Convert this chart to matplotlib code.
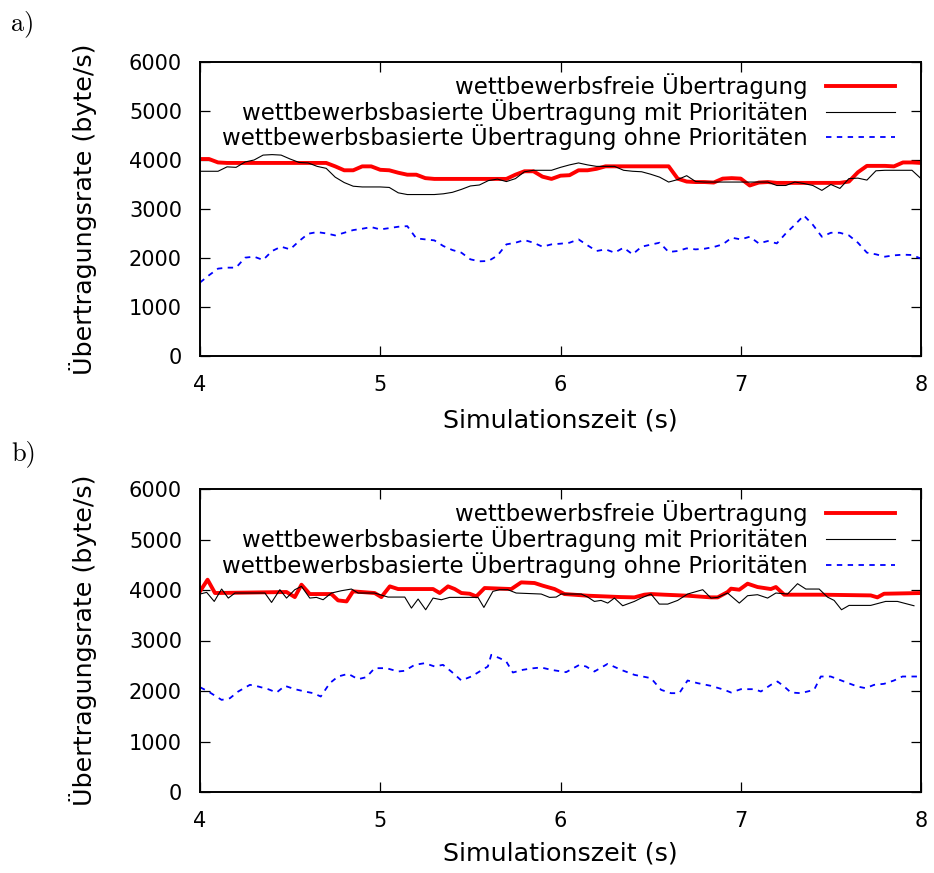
import numpy as np
import matplotlib
matplotlib.use("Agg")
import matplotlib.pyplot as plt

# ---------------- data ----------------
# panel a) sampled every 0.05 s from 4.0 to 8.0
t_a = [4.0 + 0.05 * k for k in range(81)]
red_a = [4020, 4020, 3950, 3940, 3940, 3940, 3940, 3940, 3940, 3940,
         3940, 3940, 3940, 3940, 3940, 3870, 3790, 3790, 3870, 3870,
         3800, 3790, 3740, 3700, 3700, 3630, 3614, 3614, 3614, 3614,
         3614, 3614, 3614, 3614, 3614, 3700, 3770, 3770, 3660, 3614,
         3680, 3690, 3790, 3790, 3820, 3871, 3871, 3871, 3871, 3871,
         3871, 3871, 3871, 3620, 3560, 3550, 3550, 3540, 3620, 3630,
         3620, 3480, 3540, 3550, 3533, 3533, 3533, 3533, 3533, 3533,
         3533, 3533, 3560, 3750, 3880, 3880, 3880, 3870, 3950, 3950,
         3940]
black_a = [3770, 3770, 3770, 3860, 3850, 3960, 4000, 4100, 4110, 4100,
           4020, 3950, 3940, 3870, 3830, 3650, 3540, 3465, 3450, 3450,
           3450, 3440, 3330, 3295, 3295, 3295, 3295, 3310, 3340, 3400,
           3470, 3490, 3580, 3610, 3560, 3620, 3760, 3790, 3790, 3790,
           3850, 3900, 3940, 3900, 3870, 3870, 3870, 3790, 3770, 3760,
           3710, 3650, 3550, 3600, 3680, 3560, 3550, 3550, 3550, 3550,
           3550, 3550, 3550, 3550, 3480, 3480, 3550, 3520, 3480, 3380,
           3500, 3420, 3620, 3630, 3590, 3780, 3790, 3790, 3790, 3790,
           3620]
blue_a = [1499, 1648, 1783, 1803, 1803, 2007, 2027, 1960, 2143, 2231,
          2176, 2346, 2495, 2529, 2502, 2461, 2515, 2570, 2597, 2631,
          2583, 2610, 2638, 2650, 2400, 2380, 2360, 2244, 2163, 2109,
          1973, 1932, 1939, 2048, 2278, 2312, 2366, 2312, 2231, 2278,
          2292, 2312, 2380, 2258, 2143, 2176, 2109, 2210, 2075, 2231,
          2272, 2312, 2122, 2143, 2197, 2176, 2190, 2224, 2278, 2414,
          2380, 2434, 2298, 2346, 2298, 2502, 2678, 2868, 2678, 2434,
          2515, 2515, 2461, 2312, 2109, 2075, 2027, 2054, 2068, 2061,
          1987]

# panel b) vertices
t_red_b = [4.000, 4.042, 4.083, 4.480, 4.526, 4.563, 4.609, 4.729, 4.766, 4.813,
           4.849, 4.969, 5.006, 5.053, 5.099, 5.293, 5.330, 5.376, 5.413, 5.450,
           5.496, 5.533, 5.579, 5.727, 5.782, 5.856, 5.902, 5.967, 6.022, 6.151,
           6.336, 6.410, 6.465, 6.502, 6.576, 6.705, 6.835, 6.872, 6.927, 6.946,
           6.992, 7.038, 7.093, 7.167, 7.195, 7.241, 7.444, 7.721, 7.758, 7.795,
           8.000]
red_b = [3973, 4204, 3940, 3960, 3860, 4105, 3920, 3920, 3794, 3774,
         3973, 3940, 3860, 4072, 4019, 4019, 3940, 4072, 4019, 3940,
         3926, 3873, 4039, 4019, 4151, 4138, 4085, 4019, 3920, 3887,
         3860, 3854, 3907, 3920, 3907, 3887, 3854, 3854, 3960, 4026,
         4006, 4125, 4059, 4019, 4059, 3907, 3907, 3893, 3854, 3926,
         3940]
t_black_b = [4.000, 4.037, 4.079, 4.120, 4.157, 4.194, 4.360, 4.397, 4.443, 4.480,
             4.526, 4.563, 4.609, 4.646, 4.683, 4.729, 4.785, 4.840, 4.877, 4.969,
             5.043, 5.136, 5.173, 5.210, 5.252, 5.293, 5.339, 5.385, 5.542, 5.575,
             5.625, 5.662, 5.708, 5.754, 5.893, 5.939, 5.976, 6.004, 6.115, 6.151,
             6.188, 6.225, 6.262, 6.299, 6.345, 6.410, 6.447, 6.502, 6.548, 6.595,
             6.650, 6.705, 6.789, 6.835, 6.872, 6.927, 6.992, 7.038, 7.093, 7.149,
             7.195, 7.260, 7.315, 7.361, 7.435, 7.481, 7.518, 7.559, 7.601, 7.721,
             7.804, 7.869, 7.961]
black_b = [3920, 3953, 3774, 4019, 3840, 3940, 3940, 3754, 4006, 3840,
           4006, 4072, 3840, 3854, 3807, 3940, 3986, 4019, 3940, 3940,
           3860, 3860, 3642, 3821, 3609, 3840, 3807, 3854, 3854, 3655,
           3973, 4006, 4006, 3940, 3920, 3854, 3860, 3920, 3920, 3860,
           3774, 3794, 3741, 3840, 3688, 3774, 3840, 3920, 3721, 3721,
           3794, 3920, 4006, 3840, 3854, 3940, 3741, 3887, 3907, 3840,
           3940, 3920, 4125, 4019, 4019, 3860, 3794, 3609, 3695, 3695,
           3774, 3774, 3688]
t_blue_b = [4.000, 4.046, 4.120, 4.166, 4.212, 4.277, 4.323, 4.378, 4.425, 4.471,
            4.526, 4.582, 4.628, 4.670, 4.720, 4.766, 4.822, 4.877, 4.923, 4.969,
            5.034, 5.099, 5.136, 5.191, 5.247, 5.302, 5.348, 5.394, 5.450, 5.505,
            5.551, 5.597, 5.616, 5.662, 5.699, 5.736, 5.791, 5.837, 5.893, 5.948,
            6.031, 6.105, 6.142, 6.188, 6.262, 6.336, 6.410, 6.502, 6.558, 6.613,
            6.659, 6.705, 6.761, 6.835, 6.909, 6.946, 7.001, 7.075, 7.112, 7.167,
            7.204, 7.241, 7.278, 7.333, 7.407, 7.444, 7.499, 7.573, 7.647, 7.693,
            7.740, 7.795, 7.850, 7.897, 8.000]
blue_b = [2075, 1990, 1824, 1857, 1990, 2122, 2089, 2036, 1970, 2102,
          2036, 1990, 1957, 1891, 2155, 2287, 2340, 2234, 2274, 2452,
          2452, 2386, 2400, 2518, 2551, 2485, 2518, 2386, 2208, 2287,
          2386, 2485, 2717, 2651, 2584, 2366, 2419, 2446, 2466, 2419,
          2373, 2518, 2485, 2386, 2538, 2419, 2320, 2254, 2023, 1957,
          1957, 2208, 2155, 2102, 2023, 1970, 2036, 2036, 1990, 2122,
          2188, 2089, 1970, 1957, 2023, 2287, 2287, 2188, 2089, 2056,
          2122, 2142, 2208, 2287, 2287]

labels = ["wettbewerbsfreie Übertragung",
          "wettbewerbsbasierte Übertragung mit Prioritäten",
          "wettbewerbsbasierte Übertragung ohne Prioritäten"]
x_ticks = [4, 5, 6, 7, 8]
y_ticks = [0, 1000, 2000, 3000, 4000, 5000, 6000]
xlabel = "Simulationszeit (s)"
ylabel = "Übertragungsrate (byte/s)"

# ---------------- figure ----------------
W, H = 934, 873
FONT = "DejaVu Sans"
FS_TICK = 15
FS_LEG = 16.5
FS_LAB = 18.3
plt.rcParams["font.family"] = [FONT]

fig = plt.figure(figsize=(W / 100, H / 100), dpi=100)


def px_axes(left, top, right, bottom):
    return fig.add_axes([left / W, 1 - bottom / H, (right - left) / W, (bottom - top) / H])


ax_a = px_axes(200, 62, 921, 356)
ax_b = px_axes(200, 489, 921, 792)

panels = [
    (ax_a, (t_a, red_a), (t_a, black_a), (t_a, blue_a), 62, 356, 64, "a)", 24),
    (ax_b, (t_red_b, red_b), (t_black_b, black_b), (t_blue_b, blue_b), 489, 792, 61, "b)", 454),
]

for ax, r, k, b, top_px, bottom_px, xl_off, tag, tag_y in panels:
    ax.plot(r[0], r[1], color="#ff0000", lw=2.8, label=labels[0])
    ax.plot(k[0], k[1], color="#000000", lw=0.8, label=labels[1])
    ax.plot(b[0], b[1], color="#0000ff", lw=1.3, ls=(0, (3, 3)), label=labels[2])
    ax.set_xlim(4, 8)
    ax.set_ylim(0, 6000)
    ax.set_xticks(x_ticks)
    ax.set_yticks(y_ticks)
    ax.tick_params(direction="in", length=7.5, width=0.9, top=True, right=True,
                   labelsize=FS_TICK)
    ax.tick_params(axis="x", pad=14)
    ax.tick_params(axis="y", pad=13)
    for s in ax.spines.values():
        s.set_linewidth(1.4)
    ax.legend(loc="upper right", bbox_to_anchor=(0.964, 0.962), frameon=False,
              markerfirst=False, fontsize=FS_LEG, handlelength=3.0,
              handletextpad=0.8, labelspacing=0.0, borderaxespad=0.0,
              borderpad=0.0)
    fig.text(560 / W, 1 - (bottom_px + xl_off) / H, xlabel, fontsize=FS_LAB,
             ha="center", va="center")
    fig.text(83 / W, 1 - ((top_px + bottom_px) / 2) / H, ylabel, fontsize=FS_LAB,
             rotation=90, ha="center", va="center")
    fig.text(11 / W, 1 - tag_y / H, tag, fontsize=19, family="cmr10",
             ha="left", va="center")

fig.savefig("out.png", dpi=100)
